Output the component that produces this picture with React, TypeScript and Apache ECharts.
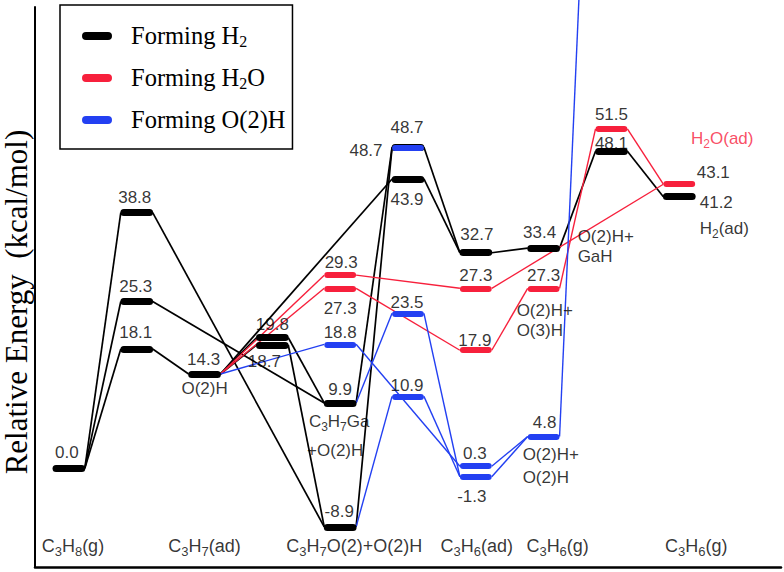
import React, { useEffect, useRef } from 'react';
import * as echarts from 'echarts';

// ---------- data ----------
const stageNames = ['C3H8(g)', 'C3H7(ad)', 'C3H7O(2)+O(2)H', 'C3H6(ad)', 'C3H6(g)', 'C3H6(g)'];
const stageColumns = [0, 2, 4, 6, 7, 9];

// [column, energy kcal/mol]
const h2Levels = [
  [0, 0.0], [1, 38.8], [1, 25.3], [1, 18.1], [2, 14.3], [3, 19.8], [3, 18.7],
  [4, 9.9], [4, -8.9], [5, 48.7], [5, 43.9], [6, 32.7], [7, 33.4], [8, 48.1], [9, 41.2],
];
const h2oLevels = [
  [4, 29.3], [4, 27.3], [6, 27.3], [6, 17.9], [7, 27.3], [8, 51.5], [9, 43.1],
];
const o2hLevels = [
  [4, 18.8], [5, 48.7], [5, 23.5], [5, 10.9], [6, 0.3], [6, -1.3], [7, 4.8],
];

// [fromColumn, fromEnergy, toColumn, toEnergy]
const h2Links = [
  [0, 0.0, 1, 38.8], [0, 0.0, 1, 25.3], [0, 0.0, 1, 18.1],
  [1, 38.8, 4, -8.9], [1, 25.3, 4, 9.9], [1, 18.1, 2, 14.3],
  [2, 14.3, 3, 19.8], [2, 14.3, 3, 18.7], [2, 14.3, 5, 43.9],
  [3, 19.8, 4, 9.9], [3, 18.7, 4, -8.9],
  [4, 9.9, 5, 48.7], [4, -8.9, 5, 48.7],
  [5, 48.7, 6, 32.7], [5, 43.9, 6, 32.7],
  [6, 32.7, 7, 33.4], [7, 33.4, 8, 48.1], [8, 48.1, 9, 41.2],
];
const h2oLinks = [
  [2, 14.3, 4, 29.3], [2, 14.3, 4, 27.3],
  [4, 29.3, 6, 27.3], [4, 27.3, 6, 17.9],
  [6, 27.3, 9, 43.1], [6, 17.9, 7, 27.3],
  [7, 27.3, 8, 51.5], [8, 51.5, 9, 43.1],
];
const o2hLinks = [
  [2, 14.3, 4, 18.8],
  [4, 18.8, 6, 0.3], [4, 9.9, 5, 23.5], [4, -8.9, 5, 10.9],
  [5, 23.5, 6, -1.3], [5, 10.9, 6, -1.3],
  [6, 0.3, 7, 4.8], [6, -1.3, 7, 4.8],
];
// line leaving the O(2)H+O(2)H level towards a point far above the plot: [x, energy]
const o2hExitFrom = [7, 4.8];
const o2hExitTo = [7.52, 71.1];

const annotations = [
  'O(2)H', 'C3H7Ga', '+O(2)H', 'O(2)H+\nO(3)H', 'O(2)H+\nO(2)H', 'O(2)H+\nGaH', 'H2O(ad)', 'H2(ad)',
];
const annotationAnchors = [
  [2, 14.3], [4, 9.9], [4, 9.9], [7, 27.3], [7, 4.8], [7, 33.4], [9, 43.1], [9, 41.2],
];

// ---------- layout / style ----------
const BLACK = '#000000';
const RED = '#f7203c';
const BLUE = '#2340f2';
const BAR_HALF = 0.19; // half-length of the level core (round caps add the rest)
const END = 0.235; // where connectors meet a level

const h2LabelOffsets = [
  [-2, -16], [-2, -15], [-1, -15], [-1, -16], [-1, -14], [0, -13], [-8, 17],
  [0, -13], [-1, -15], [-42, 3], [-1, 21], [1, -18], [-4, -16], [0, -8], [37, 6],
];
const h2oLabelOffsets = [[1, -13], [0, 20], [0, -13], [-1, -10], [0, -13], [0, -14], [34, -12]];
const o2hLabelOffsets = [[0, -12], [-1, -20], [-1, -11], [-1, -11], [-1, -13], [-4, 20], [1, -14]];
const annotationLayout = [
  { dx: 0, dy: 16, align: 'center', lh: 20, color: BLACK },
  { dx: -1, dy: 20, align: 'center', lh: 20, color: BLACK },
  { dx: -5, dy: 49, align: 'center', lh: 20, color: BLACK },
  { dx: -27, dy: 34, align: 'left', lh: 20, color: BLACK },
  { dx: -21, dy: 32, align: 'left', lh: 23, color: BLACK },
  { dx: 34, dy: 0, align: 'left', lh: 20, color: BLACK },
  { dx: 43, dy: -44, align: 'center', lh: 20, color: RED },
  { dx: 45, dy: 33, align: 'center', lh: 20, color: BLACK },
];
const stageOffsets = [4, 0, 14, 1, 14, 17];

const SANS = "Arial, 'Liberation Sans', sans-serif";
const SERIF = "'Times New Roman', 'Liberation Serif', serif";

// turn digits that follow a letter into subscript tokens
function richify(s: string, n: string, sub: string): string {
  return s
    .split('\n')
    .map((line) => {
      let out = '';
      let buf = '';
      for (let i = 0; i < line.length; i++) {
        const ch = line[i];
        const prev = i > 0 ? line[i - 1] : '';
        if (/[0-9]/.test(ch) && /[A-Za-z]/.test(prev)) {
          if (buf) out += `{${n}|${buf}}`;
          buf = '';
          out += `{${sub}|${ch}}`;
        } else {
          buf += ch;
        }
      }
      if (buf) out += `{${n}|${buf}}`;
      return out;
    })
    .join('\n');
}

function makeRich(size: number, subSize: number, lh: number, color: string) {
  return {
    n: { fontSize: size, lineHeight: lh, verticalAlign: 'top', padding: [0, 0, 2, 0], fontFamily: SANS, color },
    s: { fontSize: subSize, lineHeight: subSize, verticalAlign: 'bottom', fontFamily: SANS, color },
  };
}

function levelSegments(levels: number[][]) {
  return levels.map(([c, e]) => ({ coords: [[c - BAR_HALF, e], [c + BAR_HALF, e]] }));
}
function linkSegments(links: number[][]) {
  return links.map(([c1, e1, c2, e2]) => ({ coords: [[c1 + END, e1], [c2 - END, e2]] }));
}

function valueLabelItems(levels: number[][], offsets: number[][]) {
  return levels.map(([c, e], i) => ({
    value: [c, e],
    label: {
      show: true,
      position: 'inside',
      offset: offsets[i],
      formatter: e.toFixed(1),
      color: BLACK,
      fontSize: 17,
      fontFamily: SANS,
    },
  }));
}

export default function App() {
  const ref = useRef<HTMLDivElement>(null);

  useEffect(() => {
    if (!ref.current) return;
    const chart = echarts.init(ref.current, undefined, { renderer: 'svg' });

    const labelItems: any[] = [
      ...valueLabelItems(h2Levels, h2LabelOffsets),
      ...valueLabelItems(h2oLevels, h2oLabelOffsets),
      ...valueLabelItems(o2hLevels, o2hLabelOffsets),
      ...annotations.map((t, i) => {
        const L = annotationLayout[i];
        return {
          value: annotationAnchors[i],
          label: {
            show: true,
            position: 'inside',
            offset: [L.dx, L.dy],
            align: L.align,
            color: L.color,
            fontSize: 17,
            fontFamily: SANS,
            lineHeight: L.lh,
            formatter: richify(t, 'n', 's'),
            rich: makeRich(17, 12, L.lh, L.color),
          },
        };
      }),
      ...stageNames.map((t, i) => ({
        value: [stageColumns[i], -15],
        label: {
          show: true,
          position: 'inside',
          offset: [stageOffsets[i], -20],
          color: BLACK,
          fontSize: 18,
          fontFamily: SANS,
          formatter: richify(t, 'n', 's'),
          rich: makeRich(18, 13, 21, BLACK),
        },
      })),
    ];

    const linesBase = {
      type: 'lines',
      coordinateSystem: 'cartesian2d',
      silent: true,
      clip: false,
      animation: false,
      effect: { show: false },
    };

    chart.setOption({
      animation: false,
      grid: { left: 35, top: 7, width: 746, height: 560, containLabel: false, outerBoundsMode: 'none' },
      xAxis: {
        type: 'value',
        min: -0.5,
        max: 10.5,
        axisLine: { show: true, onZero: false, lineStyle: { color: BLACK, width: 2.5 } },
        axisTick: { show: false },
        axisLabel: { show: false },
        splitLine: { show: false },
      },
      yAxis: {
        type: 'value',
        min: -15,
        max: 70,
        axisLine: { show: true, onZero: false, lineStyle: { color: BLACK, width: 2 } },
        axisTick: { show: false },
        axisLabel: { show: false },
        splitLine: { show: false },
      },
      legend: {
        orient: 'vertical',
        left: 60,
        top: 5,
        padding: [18, 7, 14, 22],
        itemGap: 14,
        itemWidth: 28,
        itemHeight: 6,
        icon: 'path://M3,0L25,0A3,3,0,0,1,25,6L3,6A3,3,0,0,1,3,0Z',
        borderColor: BLACK,
        borderWidth: 1.5,
        selectedMode: false,
        formatter: (name: string) => richify(name, 'ln', 'ls'),
        textStyle: {
          fontFamily: SERIF,
          fontSize: 24,
          color: BLACK,
          padding: [0, 0, 0, 15],
          rich: {
            ln: { fontFamily: SERIF, fontSize: 24.5, lineHeight: 26, verticalAlign: 'top', padding: [0, 0, 3, 0], color: BLACK },
            ls: { fontFamily: SERIF, fontSize: 16, lineHeight: 16, verticalAlign: 'bottom', color: BLACK },
          },
        },
        data: [
          { name: 'Forming H2', itemStyle: { color: BLACK } },
          { name: 'Forming H2O', itemStyle: { color: RED } },
          { name: 'Forming O(2)H', itemStyle: { color: BLUE } },
        ],
      },
      graphic: [
        {
          type: 'text',
          x: 16,
          y: 302,
          rotation: Math.PI / 2,
          style: {
            text: 'Relative Energy  (kcal/mol)',
            font: `31px ${SERIF}`,
            fill: BLACK,
            align: 'center',
            verticalAlign: 'middle',
            textAlign: 'center',
            textVerticalAlign: 'middle',
          },
        },
      ],
      series: [
        { ...linesBase, name: 'H2 path', z: 2, data: linkSegments(h2Links), lineStyle: { color: BLACK, width: 1.7, opacity: 1, curveness: 0 } },
        { ...linesBase, name: 'H2O path', z: 2, data: linkSegments(h2oLinks), lineStyle: { color: RED, width: 1.4, opacity: 1, curveness: 0 } },
        {
          ...linesBase,
          name: 'O(2)H path',
          z: 2,
          data: [
            ...linkSegments(o2hLinks),
            { coords: [[o2hExitFrom[0] + END, o2hExitFrom[1]], o2hExitTo] },
          ],
          lineStyle: { color: BLUE, width: 1.4, opacity: 1, curveness: 0 },
        },
        { ...linesBase, name: 'Forming H2', z: 3, data: levelSegments(h2Levels), lineStyle: { color: BLACK, width: 7, opacity: 1, cap: 'round', curveness: 0 } },
        { ...linesBase, name: 'Forming H2O', z: 4, data: levelSegments(h2oLevels), lineStyle: { color: RED, width: 6, opacity: 1, cap: 'round', curveness: 0 } },
        { ...linesBase, name: 'Forming O(2)H', z: 5, data: levelSegments(o2hLevels), lineStyle: { color: BLUE, width: 6, opacity: 1, cap: 'round', curveness: 0 } },
        {
          type: 'scatter',
          name: 'labels',
          z: 10,
          silent: true,
          symbolSize: 1,
          itemStyle: { color: 'rgba(0,0,0,0)' },
          data: labelItems,
        },
      ],
    });

    return () => chart.dispose();
  }, []);

  return (
    <div
      ref={ref}
      style={{ position: 'fixed', left: 0, top: 0, width: 784, height: 572, background: '#fff' }}
    />
  );
}
